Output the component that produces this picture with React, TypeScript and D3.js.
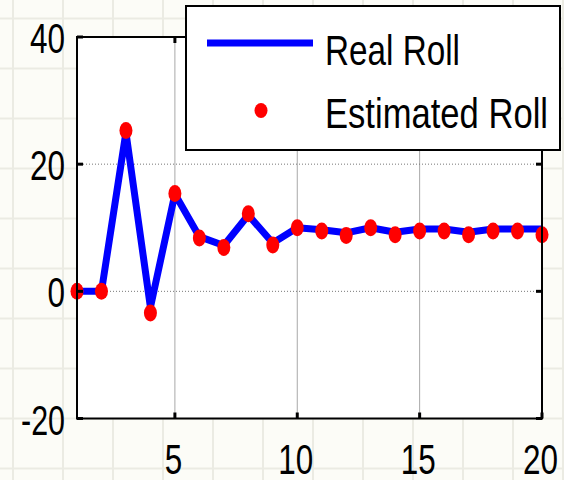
import React from "react";
import * as d3 from "d3";

// sample index and the two roll series (degrees)
const steps = [1, 2, 3, 4, 5, 6, 7, 8, 9, 10, 11, 12, 13, 14, 15, 16, 17, 18, 19, 20];
const realRoll = [0, 0, 25.0, -2.5, 15.3, 8.6, 7.2, 12.0, 7.6, 10.0, 9.7, 9.2, 10.0, 9.3, 9.8, 9.8, 9.3, 9.8, 9.8, 9.8];
const estimatedRoll = [0, 0, 25.3, -3.4, 15.4, 8.4, 6.9, 12.2, 7.3, 10.0, 9.5, 8.8, 10.0, 8.9, 9.5, 9.5, 8.9, 9.5, 9.5, 8.9];
const xTicks = [5, 10, 15, 20];
const yTicks = [-20, 0, 20, 40];
const legendLabels = ["Real Roll", "Estimated Roll"];

const W = 564;
const H = 480;
const FONT = "'Liberation Sans', Arial, sans-serif";

export default function App() {
  //plot box
  const left = 77;
  const right = 542;
  const top = 37;
  const bottom = 418.5;

  const x = d3.scaleLinear().domain([1, 20]).range([left, right]);
  const y = d3.scaleLinear().domain([-20, 40]).range([bottom, top]);

  const line = d3
    .line<number>()
    .x((_, i) => x(steps[i]))
    .y((d) => y(d));

  //squeezed text widths like the original figure
  const numWidth = (s: string) => (s.startsWith("-") ? 44 : s.length * 17.5);

  //faint graph-paper backdrop
  const bgV = d3.range(13, W, 50);
  const bgH = d3.range(18.5, H, 50);

  return (
    <svg
      width={W}
      height={H}
      style={{ position: "absolute", left: 0, top: 0, background: "#fcfcf7" }}
      fontFamily={FONT}
    >
      {bgV.map((v) => (
        <line key={"bv" + v} x1={v} x2={v} y1={0} y2={H} stroke="#ebebe3" strokeWidth={2} />
      ))}
      {bgH.map((v) => (
        <line key={"bh" + v} x1={0} x2={W} y1={v} y2={v} stroke="#ebebe3" strokeWidth={2} />
      ))}

      {/* plot area */}
      <rect x={left} y={top} width={right - left} height={bottom - top} fill="#fff" />

      {/* grid */}
      {xTicks
        .filter((t) => t < 20)
        .map((t) => (
          <line key={"gx" + t} x1={x(t)} x2={x(t)} y1={top} y2={bottom} stroke="#a8a8a8" strokeWidth={1} />
        ))}
      {yTicks
        .filter((t) => t > -20 && t < 40)
        .map((t) => (
          <line
            key={"gy" + t}
            x1={left}
            x2={right}
            y1={y(t)}
            y2={y(t)}
            stroke="#777"
            strokeWidth={1}
            strokeDasharray="1,2"
          />
        ))}

      {/* series */}
      <path
        d={line(realRoll) || ""}
        fill="none"
        stroke="#0000ff"
        strokeWidth={7}
        strokeLinejoin="round"
      />
      {estimatedRoll.map((v, i) => (
        <ellipse key={"p" + i} cx={x(steps[i])} cy={y(v)} rx={6.5} ry={8.5} fill="#ff0000" />
      ))}

      {/* axes box and inward ticks */}
      <rect
        x={left}
        y={top}
        width={right - left}
        height={bottom - top}
        fill="none"
        stroke="#000"
        strokeWidth={2}
      />
      {xTicks.map((t) => (
        <g key={"tx" + t}>
          <line x1={x(t)} x2={x(t)} y1={bottom} y2={bottom - 6} stroke="#000" strokeWidth={3} />
          <line x1={x(t)} x2={x(t)} y1={top} y2={top + 6} stroke="#000" strokeWidth={3} />
        </g>
      ))}
      {yTicks.map((t) => (
        <g key={"ty" + t}>
          <line x1={left} x2={left + 6} y1={y(t)} y2={y(t)} stroke="#000" strokeWidth={3} />
          <line x1={right} x2={right - 6} y1={y(t)} y2={y(t)} stroke="#000" strokeWidth={3} />
        </g>
      ))}

      {/* tick labels */}
      {yTicks.map((t) => (
        <text
          key={"ly" + t}
          x={65}
          y={y(t) + 16}
          fontSize={42}
          textAnchor="end"
          textLength={numWidth(String(t))}
          lengthAdjust="spacingAndGlyphs"
        >
          {t}
        </text>
      ))}
      {xTicks.map((t) => (
        <text
          key={"lx" + t}
          x={x(t) - 1.5}
          y={474}
          fontSize={42}
          textAnchor="middle"
          textLength={numWidth(String(t))}
          lengthAdjust="spacingAndGlyphs"
        >
          {t}
        </text>
      ))}

      {/* legend */}
      <rect x={186} y={6} width={374} height={144} fill="#fff" stroke="#000" strokeWidth={2} />
      <line x1={207} x2={313} y1={43} y2={43} stroke="#0000ff" strokeWidth={7} />
      <ellipse cx={261} cy={110.5} rx={6.5} ry={7.5} fill="#ff0000" />
      <text x={325} y={65} fontSize={42} textLength={135} lengthAdjust="spacingAndGlyphs">
        {legendLabels[0]}
      </text>
      <text x={325} y={128} fontSize={42} textLength={223} lengthAdjust="spacingAndGlyphs">
        {legendLabels[1]}
      </text>
    </svg>
  );
}
